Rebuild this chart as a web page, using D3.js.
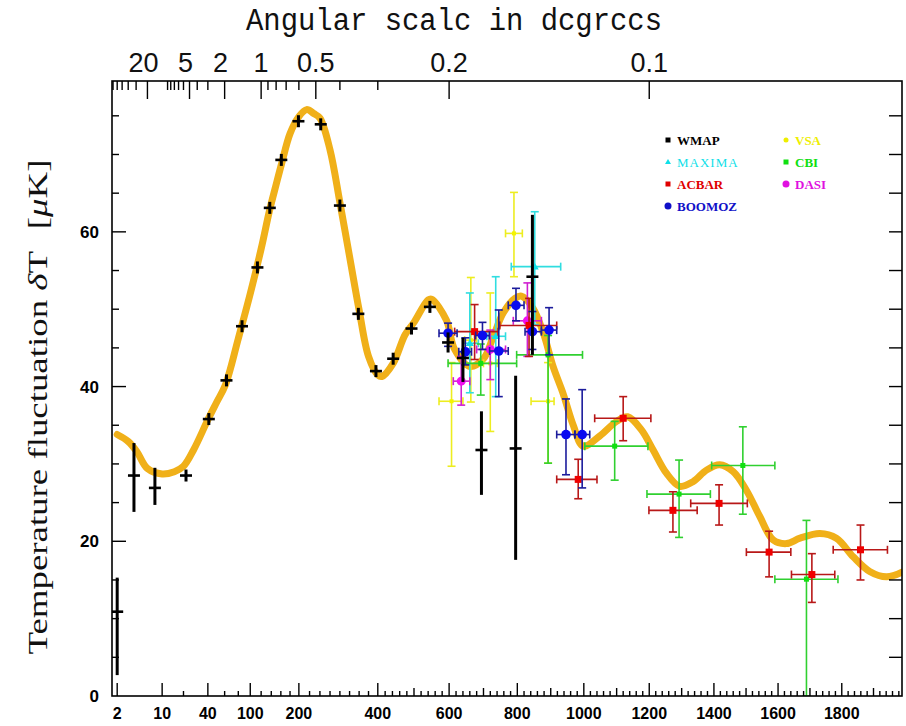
<!DOCTYPE html>
<html><head><meta charset="utf-8">
<script src="https://cdn.jsdelivr.net/npm/d3@7"></script>
<style>body{margin:0;background:#fff}</style>
</head><body>
<svg id="c" width="906" height="726"></svg>
<script>
// ---------------- data ----------------
const curveL = [2,3,4.1,6,10,15,20,27,40,50,61,80,100,120,137,150,162,180,200,218,235,250,275,300,325,350,375,400,411,442,475,500,540,550,592,616,660,700,729,758,793,812,847,878,907,938,968,998,1048,1100,1134,1176,1212,1253,1294,1335,1377,1418,1460,1501,1543,1584,1626,1669,1731,1783,1836,1888,1941,1990];
const curveT = [33.8,32.9,31.6,29.4,28.7,29.0,29.7,31.8,35.7,38.0,40.2,46.2,52.0,57.8,62.9,66.1,68.9,72.7,74.9,75.8,75.3,74.7,70.6,63.8,56.8,49.9,43.9,41.5,41.3,43.0,46.7,48.3,51.2,51.3,48.6,44.8,42.6,43.6,46.5,49.5,51.4,51.7,50.1,46.9,42.6,39.0,35.0,32.3,33.6,35.5,36.1,34.4,31.8,28.8,27.1,27.7,29.2,29.9,29.0,26.6,23.2,20.2,19.7,20.4,21.0,20.4,18.0,16.1,15.4,16.0];

const wmapL  = [2,3.7,7.8,21.6,41,62.5,86,113,137,161,199,252,300,348,395,442,493,545,597,640,694,795,845];
const wmapT  = [10.9,28.5,26.9,28.5,35.8,40.8,47.8,55.4,63.1,69.3,74.3,73.9,63.4,49.4,42.0,43.6,47.5,50.3,45.7,43.7,31.8,32.0,54.2];
const wmapLo = [2.7,23.8,24.7,27.8,35.1,40.1,47.1,54.7,62.4,68.6,73.6,73.2,62.7,48.7,41.3,42.9,46.8,49.6,44.4,40.6,26.0,17.6,44.1];
const wmapHi = [15.3,32.7,29.5,29.2,36.5,41.5,48.5,56.1,63.8,70.0,75.0,74.6,64.1,50.1,42.7,44.3,48.2,51.0,47.0,46.3,36.8,41.4,62.2];

const vsaL  = [607,663,720,790,892];
const vsaT  = [38.1,46.0,43.0,59.8,38.1];
const vsaLo = [29.7,38.0,34.2,54.2,30.1];
const vsaHi = [43.1,54.1,52.1,65.1,43.1];
const vsaL0 = [571,645,700,765,841];
const vsaL1 = [640,680,740,815,910];

const maximaL  = [660,736,852];
const maximaT  = [45.6,46.5,55.5];
const maximaLo = [39.2,38.7,48.0];
const maximaHi = [52.1,54.2,62.6];
const maximaL0 = [640,710,782];
const maximaL1 = [685,765,930];

const cbiL  = [692,892,1094,1292,1490,1689];
const cbiT  = [43.0,44.1,32.3,26.1,29.8,15.1];
const cbiLo = [38.9,30.1,27.9,20.5,23.5,0];
const cbiHi = [45.5,46.6,35.5,30.5,34.8,22.7];
const cbiL0 = [597,798,1003,1193,1393,1590];
const cbiL1 = [798,996,1196,1389,1590,1788];

const dasiL  = [635,720,830];
const dasiT  = [40.7,44.8,48.5];
const dasiLo = [37.6,40.9,43.9];
const dasiHi = [43.9,47.3,53.4];
const dasiL0 = [612,680,788];
const dasiL1 = [660,765,872];

const acbarL  = [674,835,983,1120,1273,1416,1572,1706,1859];
const acbarT  = [47.1,47.9,28.0,35.9,24.0,24.9,18.6,15.7,18.9];
const acbarLo = [43.5,43.9,25.5,33.0,21.2,22.1,15.4,12.1,15.0];
const acbarHi = [50.6,51.4,30.6,38.7,26.4,27.3,21.3,18.4,22.1];
const acbarL0 = [616,748,918,1033,1199,1328,1501,1642,1773];
const acbarL1 = [743,918,1040,1205,1348,1504,1640,1778,1944];

const boomL  = [597,647,697,745,796,845,895,946,995];
const boomT  = [46.9,44.5,46.6,44.6,50.5,47.1,47.3,33.8,33.8];
const boomLo = [45.2,42.8,44.8,38.7,48.5,44.8,44.1,28.6,26.9];
const boomHi = [48.2,46.3,48.3,49.9,52.7,49.7,50.2,38.4,39.6];
const boomL0 = [571,628,677,718,773,823,872,918,973];
const boomL1 = [623,665,717,773,820,872,918,973,1018];

const bottomTickLabels = [2,10,40,100,200,400,600,800,1000,1200,1400,1600,1800];
const topTickLabels = [20,5,2,1,0.5,0.2,0.1];
const topMinorTicks = [70,60,50,40,30,10,9,8,7,6,4,3,0.9,0.8,0.7,0.6,0.4,0.3];
const yTickLabels = [0,20,40,60];
const legendNames = ['WMAP','MAXIMA','ACBAR','BOOMOZ','VSA','CBI','DASI'];

// ---------------- layout ----------------
const L = 112, R = 902, T = 81, B = 696;
const svg = d3.select('#c');
const K = 0.011468;
const u = l => Math.log(l) + K * l;   // log-then-linear multipole axis
const xs = d3.scaleLinear().domain([u(1.65), u(1990)]).range([L, R]);
const x = l => xs(u(l));
const y = d3.scaleLinear().domain([0, 79.5]).range([B, T]);
const thetaToL = th => 120 / th;

const sans = "'Liberation Sans', Arial, sans-serif";
const serif = "'Liberation Serif', 'Times New Roman', serif";

svg.append('clipPath').attr('id','clip').append('rect')
  .attr('x',L).attr('y',T).attr('width',R-L).attr('height',B-T);

// theory curve
const line = d3.line().x(d => x(d[0])).y(d => y(d[1])).curve(d3.curveCatmullRom.alpha(0.5));
svg.append('path').datum(curveL.map((l,i)=>[l,curveT[i]]))
  .attr('d', line).attr('fill','none').attr('stroke','#f0b019')
  .attr('stroke-width',7).attr('stroke-linecap','round').attr('stroke-linejoin','round')
  .attr('clip-path','url(#clip)');

// experiments
const exps = [
  {name:'VSA', mk:'#f4f400', bar:'#eded20', shape:'sq', s:4, Ls:vsaL, Ts:vsaT, lo:vsaLo, hi:vsaHi, l0:vsaL0, l1:vsaL1},
  {name:'MAXIMA', mk:'#10e0e8', bar:'#30dde0', shape:'tri', s:4, Ls:maximaL, Ts:maximaT, lo:maximaLo, hi:maximaHi, l0:maximaL0, l1:maximaL1},
  {name:'CBI', mk:'#10e010', bar:'#30d030', shape:'sq', s:5, Ls:cbiL, Ts:cbiT, lo:cbiLo, hi:cbiHi, l0:cbiL0, l1:cbiL1},
  {name:'DASI', mk:'#f010f0', bar:'#d020d0', shape:'circ', s:4.5, Ls:dasiL, Ts:dasiT, lo:dasiLo, hi:dasiHi, l0:dasiL0, l1:dasiL1},
  {name:'ACBAR', mk:'#f00000', bar:'#b81818', shape:'sq', s:7, Ls:acbarL, Ts:acbarT, lo:acbarLo, hi:acbarHi, l0:acbarL0, l1:acbarL1},
  {name:'BOOMOZ', mk:'#0a0af0', bar:'#1c1c9c', shape:'circ', s:4.8, Ls:boomL, Ts:boomT, lo:boomLo, hi:boomHi, l0:boomL0, l1:boomL1}
];
const gData = svg.append('g').attr('clip-path','url(#clip)');
exps.forEach(e => {
  const g = gData.append('g').attr('stroke', e.bar).attr('stroke-width', 1.6);
  e.Ls.forEach((l,i) => {
    const cx = x(l), cy = y(e.Ts[i]);
    const xa = x(e.l0[i]), xb = x(e.l1[i]);
    const ya = y(e.hi[i]), yb = y(e.lo[i]);
    const seg = (x1,y1,x2,y2) => g.append('line').attr('x1',x1).attr('y1',y1).attr('x2',x2).attr('y2',y2);
    seg(xa,cy,xb,cy); seg(xa,cy-4,xa,cy+4); seg(xb,cy-4,xb,cy+4);
    seg(cx,ya,cx,yb); seg(cx-4,ya,cx+4,ya); seg(cx-4,yb,cx+4,yb);
  });
  const gm = gData.append('g').attr('fill', e.mk);
  e.Ls.forEach((l,i) => {
    const cx = x(l), cy = y(e.Ts[i]);
    if (e.shape==='sq') gm.append('rect').attr('x',cx-e.s/2).attr('y',cy-e.s/2).attr('width',e.s).attr('height',e.s);
    else if (e.shape==='circ') gm.append('circle').attr('cx',cx).attr('cy',cy).attr('r',e.s);
    else gm.append('path').attr('d',`M${cx},${cy-e.s}L${cx+e.s},${cy+e.s*0.7}L${cx-e.s},${cy+e.s*0.7}Z`);
  });
});

// WMAP
const gw = gData.append('g').attr('stroke','#000');
wmapL.forEach((l,i) => {
  const cx = x(l), cy = y(wmapT[i]);
  gw.append('line').attr('x1',cx).attr('x2',cx).attr('y1',Math.min(y(wmapHi[i]),cy-6)).attr('y2',Math.max(y(wmapLo[i]),cy+6)).attr('stroke-width',3);
  gw.append('line').attr('x1',cx-6).attr('x2',cx+6).attr('y1',cy).attr('y2',cy).attr('stroke-width',2.6);
});

// frame
svg.append('rect').attr('x',L).attr('y',T).attr('width',R-L).attr('height',B-T)
  .attr('fill','none').attr('stroke','#000').attr('stroke-width',1.6);

const tk = svg.append('g').attr('stroke','#000').attr('stroke-width',1.4);
// bottom ticks
const minorB = [20,60,80,120,140,160,180];
for (let v=225; v<400; v+=25) minorB.push(v);
for (let v=420; v<1990; v+=20) if (v%100!==0) minorB.push(v);
const midB = d3.range(500,1990,200);
minorB.forEach(v => tk.append('line').attr('x1',x(v)).attr('x2',x(v)).attr('y1',B).attr('y2',B-5));
midB.forEach(v => tk.append('line').attr('x1',x(v)).attr('x2',x(v)).attr('y1',B).attr('y2',B-8));
bottomTickLabels.forEach(v => tk.append('line').attr('x1',x(v)).attr('x2',x(v)).attr('y1',B).attr('y2',B-13));
svg.append('g').selectAll('text').data(bottomTickLabels).join('text')
  .attr('x',d=>x(d)).attr('y',719).attr('text-anchor','middle')
  .attr('font-family',sans).attr('font-weight','bold').attr('font-size',16).attr('fill','#000')
  .text(d=>d);

// left / right ticks
d3.range(5,79,5).forEach(v => {
  const major = v%20===0;
  tk.append('line').attr('x1',L).attr('x2',L+(major?14:7)).attr('y1',y(v)).attr('y2',y(v));
  tk.append('line').attr('x1',R).attr('x2',R-13).attr('y1',y(v)).attr('y2',y(v));
});
svg.append('g').selectAll('text').data(yTickLabels).join('text')
  .attr('x',99).attr('y',d=>y(d)+6).attr('text-anchor','end')
  .attr('font-family',sans).attr('font-weight','bold').attr('font-size',17).attr('fill','#000')
  .text(d=>d);

// top (angular) ticks
topMinorTicks.forEach(th => { const xx = x(thetaToL(th)); if (xx>L) tk.append('line').attr('x1',xx).attr('x2',xx).attr('y1',T).attr('y2',T+9); });
topTickLabels.forEach(th => { const xx = x(thetaToL(th)); tk.append('line').attr('x1',xx).attr('x2',xx).attr('y1',T).attr('y2',T+18); });
svg.append('g').selectAll('text').data(topTickLabels).join('text')
  .attr('x',d=>x(thetaToL(d)) - (d>=2?4:0)).attr('y',72).attr('text-anchor','middle')
  .attr('font-family',sans).attr('font-size',27).attr('fill','#111')
  .text(d=>d);

// title
svg.append('text').attr('x',246).attr('y',30).attr('textLength',416).attr('lengthAdjust','spacingAndGlyphs')
  .attr('font-family',"'Liberation Mono', 'Courier New', monospace").attr('font-size',31).attr('fill','#111')
  .text('Angular scalc in dcgrccs');

// y label
const yl = svg.append('text').attr('transform','translate(47,407) rotate(-90)')
  .attr('text-anchor','middle').attr('font-family',serif).attr('font-size',27).attr('fill','#111')
  .attr('textLength',495).attr('lengthAdjust','spacingAndGlyphs');
yl.append('tspan').text('Temperature fluctuation ');
yl.append('tspan').attr('font-style','italic').text('δ');
yl.append('tspan').text('T');
yl.append('tspan').attr('dx',16).text('[');
yl.append('tspan').attr('font-style','italic').text('μ');
yl.append('tspan').text('K]');

// legend
const legColors = {WMAP:'#000',MAXIMA:'#10e0e8',ACBAR:'#e00000',BOOMOZ:'#1010c8',VSA:'#eeee00',CBI:'#10e010',DASI:'#e010e0'};
const legShape = {WMAP:'sq',MAXIMA:'tri',ACBAR:'sq',BOOMOZ:'circ',VSA:'circ',CBI:'sq',DASI:'circ'};
const legPos = {WMAP:[668,140],MAXIMA:[668,162],ACBAR:[668,184],BOOMOZ:[668,206],VSA:[786,140],CBI:[786,162],DASI:[786,184]};
const lg = svg.append('g');
legendNames.forEach(n => {
  const [px,py] = legPos[n], c = legColors[n], s = legShape[n];
  if (s==='sq') lg.append('rect').attr('x',px-2.5).attr('y',py-2.5).attr('width',5).attr('height',5).attr('fill',c);
  else if (s==='circ') lg.append('circle').attr('cx',px).attr('cy',py).attr('r', n==='VSA'?2.5:3.5).attr('fill',c);
  else lg.append('path').attr('d',`M${px},${py-3}L${px+3},${py+2}L${px-3},${py+2}Z`).attr('fill',c);
  lg.append('text').attr('x',px+9).attr('y',py+5).attr('font-family',serif)
    .attr('font-weight', n==='MAXIMA'?'normal':'bold').attr('font-size',13)
    .attr('letter-spacing', n==='MAXIMA'?1:0).attr('fill',c).text(n);
});
</script>
</body></html>
